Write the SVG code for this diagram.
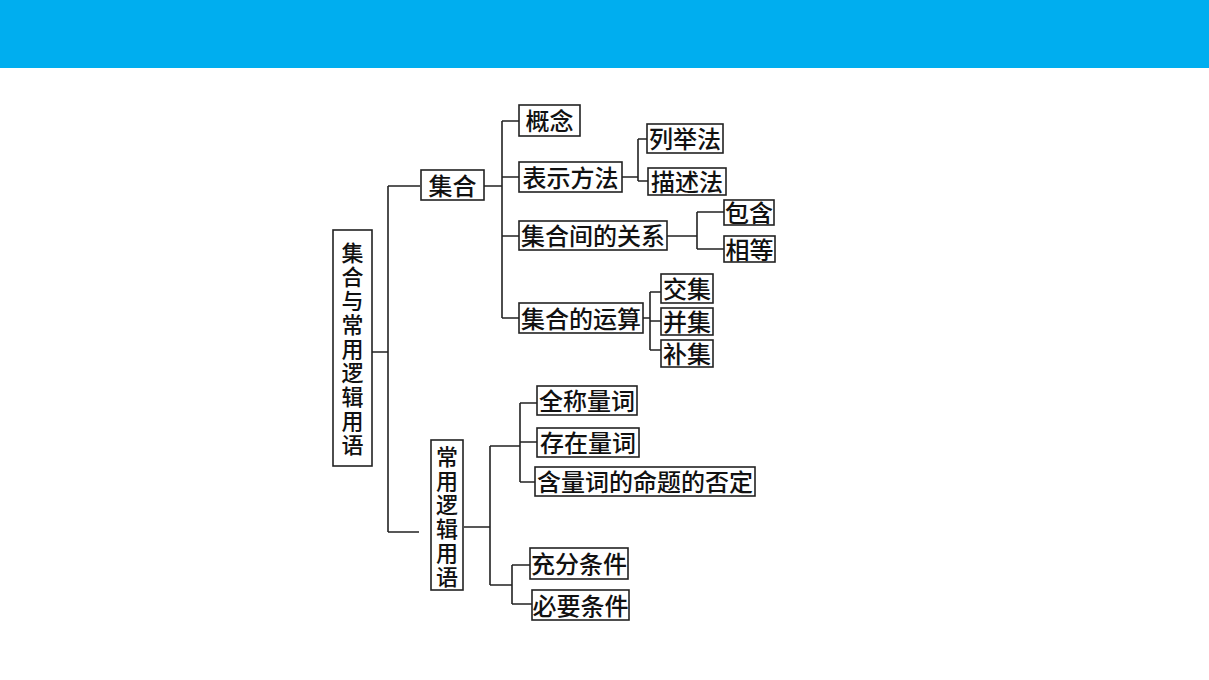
<svg xmlns="http://www.w3.org/2000/svg" width="1209" height="680" viewBox="0 0 1209 680">
<style>
.b{fill:#fff;stroke:#222;stroke-width:1.6}
.t{font-family:"Noto Sans CJK SC","Noto Sans CJK JP",sans-serif;font-size:24px;font-weight:500;fill:#111;text-anchor:middle;dominant-baseline:central}
.v{font-family:"Noto Sans CJK SC","Noto Sans CJK JP",sans-serif;font-size:22px;font-weight:500;fill:#111;text-anchor:middle;dominant-baseline:central}
.c{fill:none;stroke:#222;stroke-width:1.6}
</style>
<rect x="0" y="0" width="1209" height="68" fill="#00AEEF"/>
<g id="connectors">
<path class="c" d="M372 352H388M388 186V532M388 186H420M388 532H419"/>
<path class="c" d="M484 186H502M502 121V318M502 121H519M502 177H519M502 236H519M502 318H519"/>
<path class="c" d="M622 177H638M638 139V181M638 139H647M638 181H648"/>
<path class="c" d="M667 236H697M697 212V249M697 212H724M697 249H724"/>
<path class="c" d="M643 318H650M650 292V350M650 292H661M650 321H661M650 350H661"/>
<path class="c" d="M464 527H490M490 446V585M490 446H520M520 403V482M520 403H537M520 442H537M520 482H535M490 585H512M512 565V604M512 565H530M512 604H532"/>
</g>
<g id="root"><rect class="b" x="333" y="230" width="39" height="236"/>
<text class="v" x="352.5" y="251">集</text><text class="v" x="352.5" y="275">合</text><text class="v" x="352.5" y="299">与</text><text class="v" x="352.5" y="323">常</text><text class="v" x="352.5" y="347">用</text><text class="v" x="352.5" y="371">逻</text><text class="v" x="352.5" y="395">辑</text><text class="v" x="352.5" y="419">用</text><text class="v" x="352.5" y="443">语</text></g>
<g id="jihe"><rect class="b" x="421" y="170" width="63" height="30"/><text class="t" x="452.5" y="184">集合</text></g>
<g id="gainian"><rect class="b" x="519" y="105" width="61" height="31"/><text class="t" x="549.5" y="119.5">概念</text></g>
<g id="biaoshi"><rect class="b" x="519" y="162" width="103" height="30"/><text class="t" x="570.5" y="176">表示方法</text></g>
<g id="liejufa"><rect class="b" x="647" y="124" width="76" height="29"/><text class="t" x="685" y="137.5">列举法</text></g>
<g id="miaoshufa"><rect class="b" x="648" y="168" width="78" height="27"/><text class="t" x="687" y="180.5">描述法</text></g>
<g id="guanxi"><rect class="b" x="519" y="221" width="148" height="29"/><text class="t" x="593" y="234.5">集合间的关系</text></g>
<g id="baohan"><rect class="b" x="724" y="200" width="50" height="25"/><text class="t" x="749" y="211.5">包含</text></g>
<g id="xiangdeng"><rect class="b" x="724" y="236" width="51" height="26"/><text class="t" x="749.5" y="248">相等</text></g>
<g id="yunsuan"><rect class="b" x="519" y="303" width="124" height="30"/><text class="t" x="581" y="317">集合的运算</text></g>
<g id="jiaoji"><rect class="b" x="661" y="274" width="52" height="29"/><text class="t" x="687" y="287.5">交集</text></g>
<g id="bingji"><rect class="b" x="661" y="308" width="52" height="27"/><text class="t" x="687" y="320.5">并集</text></g>
<g id="buji"><rect class="b" x="661" y="340" width="52" height="27"/><text class="t" x="687" y="352.5">补集</text></g>
<g id="luoji"><rect class="b" x="431" y="440" width="32" height="150"/>
<text class="v" x="447" y="455">常</text><text class="v" x="447" y="479">用</text><text class="v" x="447" y="503">逻</text><text class="v" x="447" y="527">辑</text><text class="v" x="447" y="551">用</text><text class="v" x="447" y="575">语</text></g>
<g id="quancheng"><rect class="b" x="537" y="386" width="100" height="29"/><text class="t" x="587" y="399.5">全称量词</text></g>
<g id="cunzai"><rect class="b" x="537" y="428" width="102" height="29"/><text class="t" x="588" y="441.5">存在量词</text></g>
<g id="fouding"><rect class="b" x="535" y="467" width="220" height="29"/><text class="t" x="645" y="480.5">含量词的命题的否定</text></g>
<g id="chongfen"><rect class="b" x="530" y="548" width="98" height="31"/><text class="t" x="579" y="562.5">充分条件</text></g>
<g id="biyao"><rect class="b" x="532" y="590" width="97" height="30"/><text class="t" x="580.5" y="604">必要条件</text></g>
</svg>
